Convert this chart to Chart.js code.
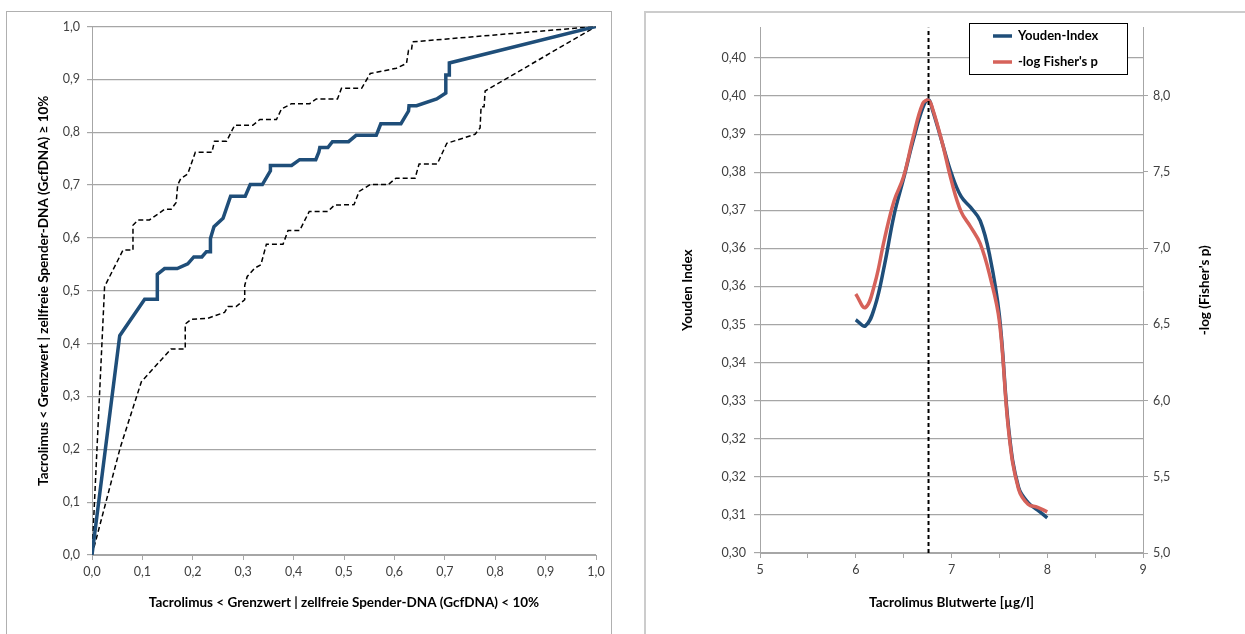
<!DOCTYPE html>
<html>
<head>
<meta charset="utf-8">
<script src="https://cdn.jsdelivr.net/npm/chart.js@4.4.1/dist/chart.umd.min.js"></script>
<style>
  html, body { margin: 0; padding: 0; background: #fff; }
  body { width: 1245px; height: 634px; position: relative; overflow: hidden; }
  .panel { position: absolute; box-sizing: border-box; }
  #leftPanel { left: 6px; top: 11px; width: 606px; height: 660px; border: 1px solid #b0b0b0; }
  #rightPanel { left: 644px; top: 11px; width: 640px; height: 660px; border: 2px solid #cccccc; }
  canvas { position: absolute; }
  #rocChart { left: 7px; top: 12px; }
  #youdenChart { left: 645px; top: 12px; }
</style>
</head>
<body>
<div class="panel" id="leftPanel"></div>
<div class="panel" id="rightPanel"></div>
<canvas id="rocChart" width="604" height="622"></canvas>
<canvas id="youdenChart" width="600" height="622"></canvas>
<script>
// ROC curve with upper / lower bound
const rocX = [0, 0.055, 0.1045, 0.1296, 0.1296, 0.144, 0.169, 0.190, 0.202, 0.218, 0.227, 0.235, 0.235, 0.242, 0.260, 0.275, 0.304, 0.314, 0.338, 0.354, 0.354, 0.396, 0.412, 0.444, 0.450, 0.452, 0.468, 0.477, 0.509, 0.524, 0.564, 0.573, 0.613, 0.628, 0.629, 0.644, 0.684, 0.702, 0.702, 0.709, 0.709, 1.0];
const rocY = [0, 0.415, 0.484, 0.484, 0.531, 0.542, 0.542, 0.551, 0.564, 0.564, 0.574, 0.574, 0.599, 0.621, 0.637, 0.679, 0.679, 0.701, 0.701, 0.727, 0.737, 0.737, 0.748, 0.748, 0.762, 0.771, 0.771, 0.782, 0.782, 0.794, 0.794, 0.816, 0.816, 0.840, 0.850, 0.850, 0.863, 0.874, 0.908, 0.908, 0.931, 1.0];

const upperX = [0, 0.025, 0.0615, 0.0813, 0.0813, 0.0913, 0.114, 0.144, 0.157, 0.167, 0.170, 0.176, 0.190, 0.205, 0.238, 0.243, 0.267, 0.283, 0.319, 0.333, 0.366, 0.376, 0.396, 0.432, 0.445, 0.487, 0.495, 0.535, 0.552, 0.604, 0.624, 0.628, 0.634, 0.636, 1.0];
const upperY = [0, 0.508, 0.577, 0.577, 0.624, 0.634, 0.634, 0.654, 0.654, 0.667, 0.700, 0.712, 0.721, 0.762, 0.762, 0.783, 0.783, 0.813, 0.813, 0.824, 0.824, 0.844, 0.854, 0.854, 0.863, 0.863, 0.883, 0.883, 0.911, 0.921, 0.930, 0.955, 0.956, 0.971, 1.0];

const lowerX = [0, 0.056, 0.098, 0.157, 0.185, 0.185, 0.197, 0.230, 0.263, 0.270, 0.286, 0.303, 0.303, 0.308, 0.323, 0.335, 0.346, 0.379, 0.389, 0.412, 0.431, 0.468, 0.481, 0.520, 0.530, 0.552, 0.588, 0.603, 0.641, 0.649, 0.685, 0.704, 0.724, 0.760, 0.770, 0.772, 0.778, 0.780, 1.0];
const lowerY = [0, 0.203, 0.328, 0.390, 0.390, 0.437, 0.446, 0.448, 0.459, 0.470, 0.470, 0.483, 0.510, 0.527, 0.543, 0.549, 0.588, 0.588, 0.614, 0.614, 0.650, 0.650, 0.662, 0.663, 0.688, 0.701, 0.701, 0.713, 0.713, 0.740, 0.740, 0.779, 0.785, 0.796, 0.808, 0.848, 0.848, 0.878, 1.0];

const rocTicks = [0, 0.1, 0.2, 0.3, 0.4, 0.5, 0.6, 0.7, 0.8, 0.9, 1.0];

// Youden index and -log Fisher's p by tacrolimus cut-off
const cutoffs = [6.0, 6.1, 6.2, 6.3, 6.4, 6.5, 6.6, 6.7, 6.76, 6.8, 6.9, 7.0, 7.1, 7.2, 7.3, 7.4, 7.5, 7.6, 7.7, 7.8, 7.9, 8.0];
const youden = [0.3490, 0.3477, 0.3518, 0.3605, 0.3710, 0.3787, 0.3867, 0.3935, 0.3952, 0.3932, 0.3864, 0.3797, 0.3749, 0.3726, 0.3698, 0.3624, 0.3499, 0.3256, 0.3138, 0.3106, 0.3090, 0.3074];
const fisher = [6.70, 6.61, 6.77, 7.06, 7.31, 7.47, 7.73, 7.95, 7.97, 7.92, 7.70, 7.44, 7.24, 7.14, 7.03, 6.82, 6.52, 5.78, 5.42, 5.32, 5.30, 5.27];
const bestCutoff = [6.76, 6.76];
const youdenRange = [0.30, 0.4104];
const fisherRange = [5.0, 8.448];
const youdenTicks = [0.300, 0.308, 0.316, 0.324, 0.332, 0.340, 0.348, 0.356, 0.364, 0.372, 0.380, 0.388, 0.396, 0.404];
const fisherTicks = [5.0, 5.5, 6.0, 6.5, 7.0, 7.5, 8.0];
const blutTicks = [5, 5.5, 6, 6.5, 7, 7.5, 8, 8.5, 9];

const pts = (xs, ys) => xs.map((x, i) => ({ x: x, y: ys[i] }));
const comma = (v, d) => Number(v).toFixed(d).replace('.', ',');
const setTicks = arr => scale => { scale.ticks = arr.map(v => ({ value: v })); };

Chart.defaults.font.family = 'Lato, "DejaVu Sans", sans-serif';
Chart.defaults.font.size = 12.5;
Chart.defaults.color = '#404040';
const gridGrey = '#a6a6a6';
const titleFont = { size: 13.5, weight: 'bold' };
const boldFont = 'bold 13.5px Lato, "DejaVu Sans", sans-serif';
const legendFont = 'bold 13px Lato, "DejaVu Sans", sans-serif';

// Left chart - ROC
new Chart(document.getElementById('rocChart'), {
  type: 'scatter',
  data: {
    datasets: [
      { label: 'ROC', data: pts(rocX, rocY), showLine: true, borderColor: '#1f4e79', borderWidth: 3.5, pointRadius: 0 },
      { label: 'obere Grenze', data: pts(upperX, upperY), showLine: true, borderColor: '#000', borderWidth: 1.5, borderDash: [5, 3], pointRadius: 0 },
      { label: 'untere Grenze', data: pts(lowerX, lowerY), showLine: true, borderColor: '#000', borderWidth: 1.5, borderDash: [5, 3], pointRadius: 0 }
    ]
  },
  options: {
    responsive: false,
    animation: false,
    layout: { padding: { top: 9, right: 15 } },
    plugins: { legend: { display: false }, tooltip: { enabled: false } },
    scales: {
      x: {
        type: 'linear', min: 0, max: 1,
        afterBuildTicks: setTicks(rocTicks),
        afterFit: s => { s.height = 79; },
        ticks: { callback: v => comma(v, 1), padding: 4, maxRotation: 0, autoSkip: false },
        grid: { drawOnChartArea: false, color: gridGrey, tickLength: 5 },
        border: { color: gridGrey },
        title: { display: true, text: 'Tacrolimus < Grenzwert | zellfreie Spender-DNA (GcfDNA) < 10%', font: titleFont, color: '#000', padding: { bottom: 23 } }
      },
      y: {
        min: 0, max: 1,
        afterBuildTicks: setTicks(rocTicks),
        afterFit: s => { s.width = 85; },
        ticks: { callback: v => comma(v, 1), padding: 7, autoSkip: false },
        grid: { color: gridGrey, tickLength: 5, lineWidth: 1.2 },
        border: { color: gridGrey },
        title: { display: true, text: 'Tacrolimus < Grenzwert | zellfreie Spender-DNA (GcfDNA) ≥ 10%', font: titleFont, color: '#000', padding: { top: 29 } }
      }
    }
  }
});

// Right chart - Youden index and Fisher
const extrasPlugin = {
  id: 'extras',
  afterDraw(chart) {
    const ctx = chart.ctx;
    const area = chart.chartArea;
    ctx.save();
    // right axis title, reads bottom to top
    ctx.font = boldFont;
    ctx.fillStyle = '#000';
    ctx.textAlign = 'center';
    ctx.textBaseline = 'middle';
    ctx.translate(560, (area.top + area.bottom) / 2);
    ctx.rotate(-Math.PI / 2);
    ctx.fillText("-log (Fisher's p)", 0, 0);
    ctx.restore();

    // legend box
    const items = chart.data.datasets.filter(d => d.inLegend).sort((a, b) => a.legendPos - b.legendPos);
    ctx.save();
    ctx.fillStyle = '#fff';
    ctx.fillRect(324.5, 11.5, 158, 51);
    ctx.strokeStyle = '#000';
    ctx.lineWidth = 1;
    ctx.strokeRect(324.5, 11.5, 158, 51);
    ctx.font = legendFont;
    ctx.textBaseline = 'middle';
    ctx.textAlign = 'left';
    items.forEach((d, i) => {
      const y = 24 + i * 26;
      ctx.strokeStyle = d.borderColor;
      ctx.lineWidth = 3.5;
      ctx.beginPath();
      ctx.moveTo(348, y);
      ctx.lineTo(367, y);
      ctx.stroke();
      ctx.fillStyle = '#000';
      ctx.fillText(d.label, 373, y);
    });
    ctx.restore();
  }
};

new Chart(document.getElementById('youdenChart'), {
  type: 'scatter',
  data: {
    datasets: [
      { label: 'Cut-off', data: pts(bestCutoff, youdenRange), yAxisID: 'y', showLine: true, borderColor: '#000', borderWidth: 2, borderDash: [4, 3], pointRadius: 0, order: 0 },
      { label: "-log Fisher's p", data: pts(cutoffs, fisher), yAxisID: 'y1', showLine: true, borderColor: '#d6625a', borderWidth: 3.5, pointRadius: 0, tension: 0.4, order: 1, inLegend: true, legendPos: 2 },
      { label: 'Youden-Index', data: pts(cutoffs, youden), yAxisID: 'y', showLine: true, borderColor: '#1f4e79', borderWidth: 3.5, pointRadius: 0, tension: 0.4, order: 2, inLegend: true, legendPos: 1 }
    ]
  },
  options: {
    responsive: false,
    animation: false,
    layout: { padding: { top: 10 } },
    plugins: { legend: { display: false }, tooltip: { enabled: false } },
    scales: {
      x: {
        type: 'linear', min: 5, max: 9,
        afterBuildTicks: setTicks(blutTicks),
        afterFit: s => { s.height = 81; },
        ticks: { callback: v => (Number.isInteger(v) ? String(v) : ''), padding: 4, maxRotation: 0, autoSkip: false },
        grid: { drawOnChartArea: false, color: gridGrey, tickLength: 5 },
        border: { color: gridGrey },
        title: { display: true, text: 'Tacrolimus Blutwerte [µg/l]', font: titleFont, color: '#000', padding: { bottom: 23 } }
      },
      y: {
        position: 'left',
        min: youdenRange[0], max: youdenRange[1],
        afterBuildTicks: setTicks(youdenTicks),
        afterFit: s => { s.width = 115; },
        ticks: { callback: v => comma(v, 2), padding: 8, autoSkip: false },
        grid: { color: gridGrey, tickLength: 6, lineWidth: 1.2 },
        border: { color: gridGrey },
        title: { display: true, text: 'Youden Index', font: titleFont, color: '#000', padding: { top: 35 } }
      },
      y1: {
        position: 'right',
        min: fisherRange[0], max: fisherRange[1],
        afterBuildTicks: setTicks(fisherTicks),
        afterFit: s => { s.width = 102; },
        ticks: { callback: v => comma(v, 1), padding: 5, autoSkip: false },
        grid: { drawOnChartArea: false, color: gridGrey, tickLength: 5 },
        border: { color: gridGrey }
      }
    }
  },
  plugins: [extrasPlugin]
});
</script>
</body>
</html>
